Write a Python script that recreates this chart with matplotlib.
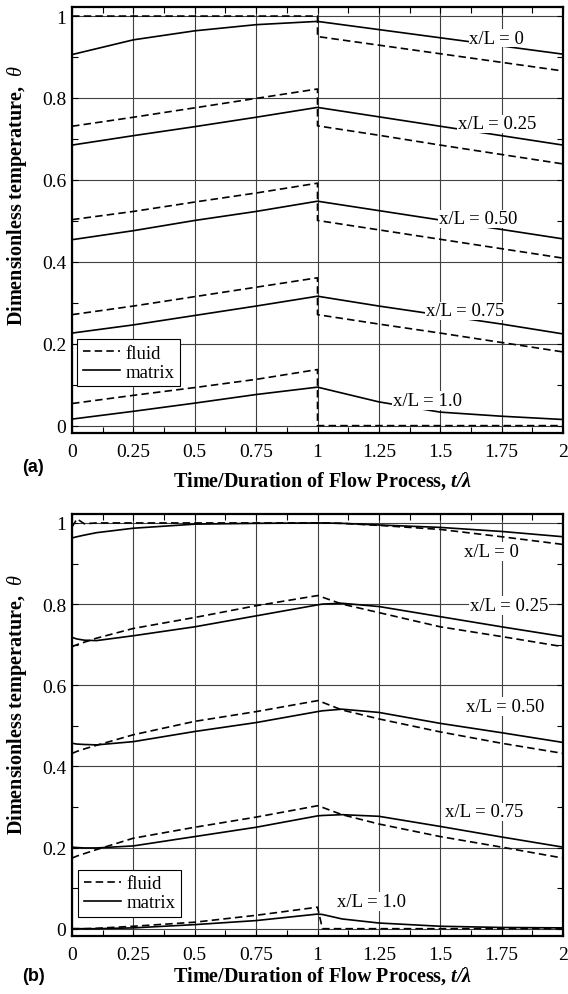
# Dimensionless temperature of fluid and matrix, panels (a) and (b)

import numpy as np
import matplotlib
matplotlib.use('Agg')
import matplotlib.pyplot as plt
from matplotlib.ticker import MultipleLocator

plt.rcParams['font.family'] = ['Liberation Serif', 'DejaVu Serif']
plt.rcParams['mathtext.fontset'] = 'custom'
plt.rcParams['mathtext.rm'] = 'Liberation Serif'
plt.rcParams['mathtext.it'] = 'Liberation Serif:italic'
plt.rcParams['mathtext.bf'] = 'Liberation Serif:bold'
plt.rcParams['mathtext.bfit'] = 'Liberation Serif:italic:bold'

# ---------------- data ----------------
positions = ['0', '0.25', '0.50', '0.75', '1.0']

# panel (a): fluid jumps at t = 1 (time 1.0 listed twice)
t_a = [0, 0.25, 0.5, 0.75, 1.0, 1.0, 1.25, 1.5, 1.75, 2.0]
fluid_a = [
    [1.000, 1.000, 1.000, 1.000, 1.000, 0.950, 0.929, 0.908, 0.887, 0.866],
    [0.731, 0.753, 0.776, 0.799, 0.822, 0.732, 0.709, 0.685, 0.662, 0.639],
    [0.503, 0.523, 0.546, 0.568, 0.592, 0.501, 0.478, 0.455, 0.432, 0.409],
    [0.271, 0.292, 0.315, 0.338, 0.361, 0.271, 0.248, 0.226, 0.203, 0.180],
    [0.054, 0.074, 0.093, 0.113, 0.137, 0.000, 0.000, 0.000, 0.000, 0.000],
]
matrix_a = [
    [0.906, 0.942, 0.964, 0.979, 0.987, 0.987, 0.967, 0.947, 0.927, 0.907],
    [0.685, 0.708, 0.730, 0.753, 0.777, 0.777, 0.754, 0.731, 0.708, 0.685],
    [0.454, 0.476, 0.501, 0.523, 0.548, 0.548, 0.525, 0.502, 0.479, 0.456],
    [0.226, 0.246, 0.269, 0.292, 0.316, 0.316, 0.292, 0.270, 0.248, 0.224],
    [0.016, 0.035, 0.055, 0.076, 0.094, 0.094, 0.058, 0.033, 0.023, 0.015],
]

# panel (b)
t_b = [0, 0.02, 0.05, 0.1, 0.25, 0.5, 0.75, 1.0, 1.02, 1.1, 1.25, 1.5, 1.75, 2.0]
fluid_b = [
    [0.990, 1.010, 0.998, 1.000, 1.000, 1.000, 1.000, 1.000, 1.000, 0.999, 0.994, 0.984, 0.966, 0.947],
    [0.695, 0.700, 0.706, 0.716, 0.740, 0.767, 0.796, 0.821, 0.817, 0.800, 0.779, 0.744, 0.720, 0.695],
    [0.432, 0.437, 0.443, 0.452, 0.478, 0.511, 0.535, 0.562, 0.558, 0.539, 0.517, 0.485, 0.457, 0.432],
    [0.174, 0.179, 0.185, 0.195, 0.223, 0.250, 0.275, 0.303, 0.299, 0.281, 0.258, 0.227, 0.201, 0.174],
    [0.000, 0.000, 0.000, 0.001, 0.006, 0.016, 0.033, 0.053, 0.000, 0.000, 0.000, 0.000, 0.000, 0.000],
]
matrix_b = [
    [0.963, 0.966, 0.970, 0.976, 0.987, 0.997, 0.999, 1.000, 1.000, 0.999, 0.995, 0.989, 0.979, 0.966],
    [0.718, 0.714, 0.711, 0.710, 0.722, 0.744, 0.771, 0.798, 0.800, 0.802, 0.794, 0.769, 0.744, 0.720],
    [0.457, 0.455, 0.454, 0.453, 0.461, 0.486, 0.508, 0.535, 0.537, 0.541, 0.533, 0.506, 0.483, 0.459],
    [0.201, 0.200, 0.199, 0.199, 0.204, 0.227, 0.250, 0.278, 0.279, 0.281, 0.277, 0.252, 0.226, 0.201],
    [0.000, 0.000, 0.000, 0.000, 0.002, 0.010, 0.020, 0.036, 0.035, 0.024, 0.014, 0.006, 0.003, 0.002],
]

x_ticks = [0, 0.25, 0.5, 0.75, 1, 1.25, 1.5, 1.75, 2]
x_ticklabels = ['0', '0.25', '0.5', '0.75', '1', '1.25', '1.5', '1.75', '2']
y_ticks = [0, 0.2, 0.4, 0.6, 0.8, 1]
y_ticklabels = ['0', '0.2', '0.4', '0.6', '0.8', '1']

# label positions (data coords) for x/L annotations
label_pos_a = [(1.73, 0.946), (1.73, 0.737), (1.655, 0.505), (1.60, 0.280), (1.447, 0.061)]
label_pos_b = [(1.71, 0.929), (1.78, 0.796), (1.765, 0.547), (1.68, 0.288), (1.22, 0.067)]

dash = (0, (4.5, 2.5))

fig = plt.figure(figsize=(5.68, 9.95), dpi=100)
ax_a = fig.add_axes([0.1268, 0.5638, 0.8644, 0.4281])
ax_b = fig.add_axes([0.1268, 0.0583, 0.8644, 0.4241])


def draw_panel(ax, t, fluid, matrix, label_pos, leg_anchor, xlab_y, ylab_y):
    for k in range(len(positions)):
        f, = ax.plot(t, fluid[k], color='black', lw=1.2, linestyle=dash, zorder=3)
        m, = ax.plot(t, matrix[k], color='black', lw=1.2, zorder=3)
        ax.text(label_pos[k][0], label_pos[k][1], 'x/L = ' + positions[k],
                fontsize=13.5, ha='center', va='center', zorder=5,
                bbox=dict(facecolor='white', edgecolor='none', pad=0.5))
    ax.set_xlim(0, 2)
    ax.set_ylim(-0.018, 1.022)
    ax.set_xticks(x_ticks)
    ax.set_xticklabels(x_ticklabels)
    ax.set_yticks(y_ticks)
    ax.set_yticklabels(y_ticklabels)
    ax.xaxis.set_minor_locator(MultipleLocator(0.125))
    ax.yaxis.set_minor_locator(MultipleLocator(0.1))
    ax.tick_params(which='both', direction='in', top=True, right=True,
                   labelsize=14, width=0.8)
    ax.tick_params(which='major', length=4)
    ax.tick_params(which='minor', length=4)
    ax.tick_params(axis='x', pad=7)
    ax.tick_params(axis='y', pad=4)
    ax.grid(True, which='major', color='0.25', lw=0.8)
    for s in ax.spines.values():
        s.set_linewidth(1.6)
    ax.set_xlabel(r'Time/Duration of Flow Process, $\mathbfit{t/\lambda}$',
                  fontsize=14.5, fontweight='bold')
    ax.set_ylabel(r'Dimensionless temperature,  $\theta$',
                  fontsize=14.5, fontweight='bold')
    ax.xaxis.set_label_coords(0.51, xlab_y)
    ax.yaxis.set_label_coords(-0.088, ylab_y)
    leg = ax.legend([f, m], ['fluid', 'matrix'], loc='lower left',
                    bbox_to_anchor=leg_anchor, borderaxespad=0, fontsize=13.5,
                    handlelength=2.0, handletextpad=0.3, labelspacing=0.1,
                    borderpad=0.3, fancybox=False, framealpha=1)
    leg.get_frame().set_edgecolor('black')
    leg.get_frame().set_linewidth(0.8)
    leg.set_zorder(6)


draw_panel(ax_a, t_a, fluid_a, matrix_a, label_pos_a, (0.01, 0.11), -0.084, 0.56)
draw_panel(ax_b, t_b, fluid_b, matrix_b, label_pos_b, (0.012, 0.045), -0.066, 0.55)

fig.text(22 / 568, 1 - 468 / 995, '(a)', fontsize=13, fontweight='bold',
         family='Liberation Sans', va='center', ha='left')
fig.text(22 / 568, 1 - 977 / 995, '(b)', fontsize=13, fontweight='bold',
         family='Liberation Sans', va='center', ha='left')

fig.savefig('out.png', dpi=100)
